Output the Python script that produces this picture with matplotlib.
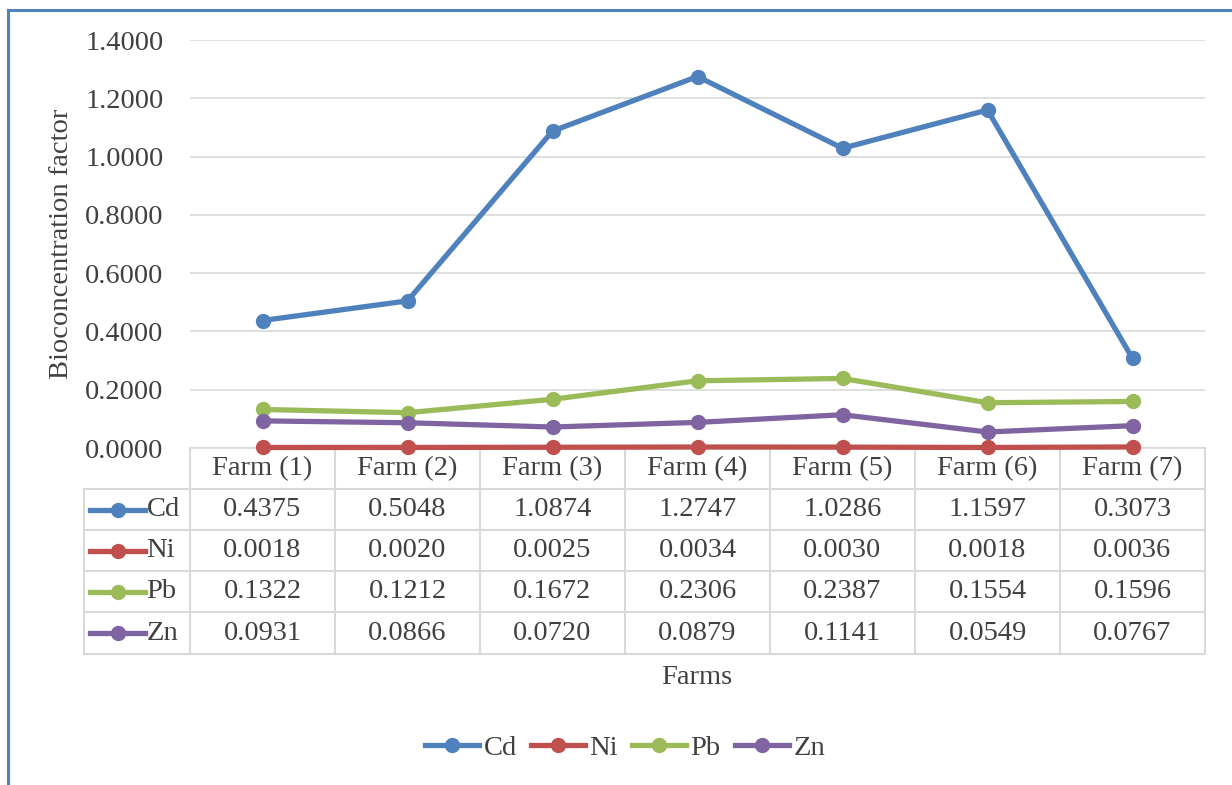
import numpy as np
import matplotlib
matplotlib.use("Agg")
from matplotlib import pyplot as plt
from matplotlib.lines import Line2D

plt.rcParams['font.family'] = ['Liberation Serif', 'DejaVu Serif']

farms = ['Farm (1)', 'Farm (2)', 'Farm (3)', 'Farm (4)', 'Farm (5)', 'Farm (6)', 'Farm (7)']
metals = ['Cd', 'Ni', 'Pb', 'Zn']
cd = [0.4375, 0.5048, 1.0874, 1.2747, 1.0286, 1.1597, 0.3073]
ni = [0.0018, 0.0020, 0.0025, 0.0034, 0.0030, 0.0018, 0.0036]
pb = [0.1322, 0.1212, 0.1672, 0.2306, 0.2387, 0.1554, 0.1596]
zn = [0.0931, 0.0866, 0.0720, 0.0879, 0.1141, 0.0549, 0.0767]
colors = ['#4F81BD', '#C0504D', '#9BBB59', '#8064A2']
series = [cd, ni, pb, zn]

W, H = 1232, 785
FS = 20.5
TC = '#404040'
fig = plt.figure(figsize=(W / 100, H / 100), dpi=100)

# outer chart border (top and left visible)
fig.add_artist(Line2D([8 / W, 8 / W], [0, 1 - 10 / H], color='#4F81BD', lw=2.2))
fig.add_artist(Line2D([8 / W, 1], [1 - 10 / H, 1 - 10 / H], color='#4F81BD', lw=2.2))

left, right, top, bottom = 190, 1205, 40, 448
ax = fig.add_axes([left / W, 1 - bottom / H, (right - left) / W, (bottom - top) / H])

x = np.arange(len(farms))
for vals, c, m in zip(series, colors, metals):
    ax.plot(x, vals, '-o', color=c, lw=3.8, ms=10, label=m, zorder=3, clip_on=False)

ax.set_xlim(-0.5, len(farms) - 0.5)
ax.set_ylim(0, 1.4)
ax.set_yticks(np.arange(0, 1.41, 0.2))
ax.set_yticklabels([f'{v:.4f}' for v in np.arange(0, 1.41, 0.2)], fontsize=FS, color=TC)
ax.set_xticks([])
ax.tick_params(axis='y', length=0, pad=19)
ax.grid(axis='y', color='#d9d9d9', lw=1.2)
ax.set_axisbelow(True)
for s in ['top', 'right', 'left']:
    ax.spines[s].set_visible(False)
ax.spines['bottom'].set_color('#d9d9d9')
ax.spines['bottom'].set_linewidth(1.2)
ax.set_ylabel('Bioconcentration factor', fontsize=FS, color=TC, labelpad=8)

# data table below the axis
ph = bottom - top
def ay(py):
    return (bottom - py) / ph

row_edges = [448, 489, 530, 571, 612, 654]
gc = '#d9d9d9'
tab_left = (84 - left) / (right - left) * len(farms) - 0.5
tr = ax.get_xaxis_transform()
for e in row_edges[1:]:
    ax.plot([tab_left, len(farms) - 0.5], [ay(e)] * 2, color=gc, lw=1.5, transform=tr, clip_on=False)
for k in range(len(farms) + 1):
    ax.plot([k - 0.5] * 2, [ay(448), ay(654)], color=gc, lw=1.5, transform=tr, clip_on=False)
ax.plot([tab_left] * 2, [ay(489), ay(654)], color=gc, lw=1.5, transform=tr, clip_on=False)

for j, f in enumerate(farms):
    ax.text(j, ay(469), f, ha='center', va='center', fontsize=FS, color=TC, transform=tr)
for r, (vals, c, m) in enumerate(zip(series, colors, metals)):
    yc = ay((row_edges[r + 1] + row_edges[r + 2]) / 2)
    x0 = tab_left + (90 - 84) / (right - left) * len(farms)
    x1 = tab_left + (145 - 84) / (right - left) * len(farms)
    ax.plot([x0, x1], [yc, yc], color=c, lw=3.8, transform=tr, clip_on=False)
    ax.plot([(x0 + x1) / 2], [yc], 'o', color=c, ms=10, transform=tr, clip_on=False)
    ax.text(x1 + 0.01, yc, m, ha='left', va='center', fontsize=FS, color=TC, transform=tr)
    for j, v in enumerate(vals):
        ax.text(j, yc, f'{v:.4f}', ha='center', va='center', fontsize=FS, color=TC, transform=tr)

fig.text(697 / W, 1 - 678 / H, 'Farms', ha='center', va='center', fontsize=FS, color=TC)

handles = [Line2D([], [], color=c, lw=3.8, marker='o', ms=10) for c in colors]
fig.legend(handles, metals, loc='center', bbox_to_anchor=(625 / W, 1 - 748 / H), ncol=4,
           frameon=False, fontsize=FS, handlelength=1.9, columnspacing=0.5, handletextpad=0.15,
           labelcolor=TC)

fig.savefig('out.png', dpi=100)
